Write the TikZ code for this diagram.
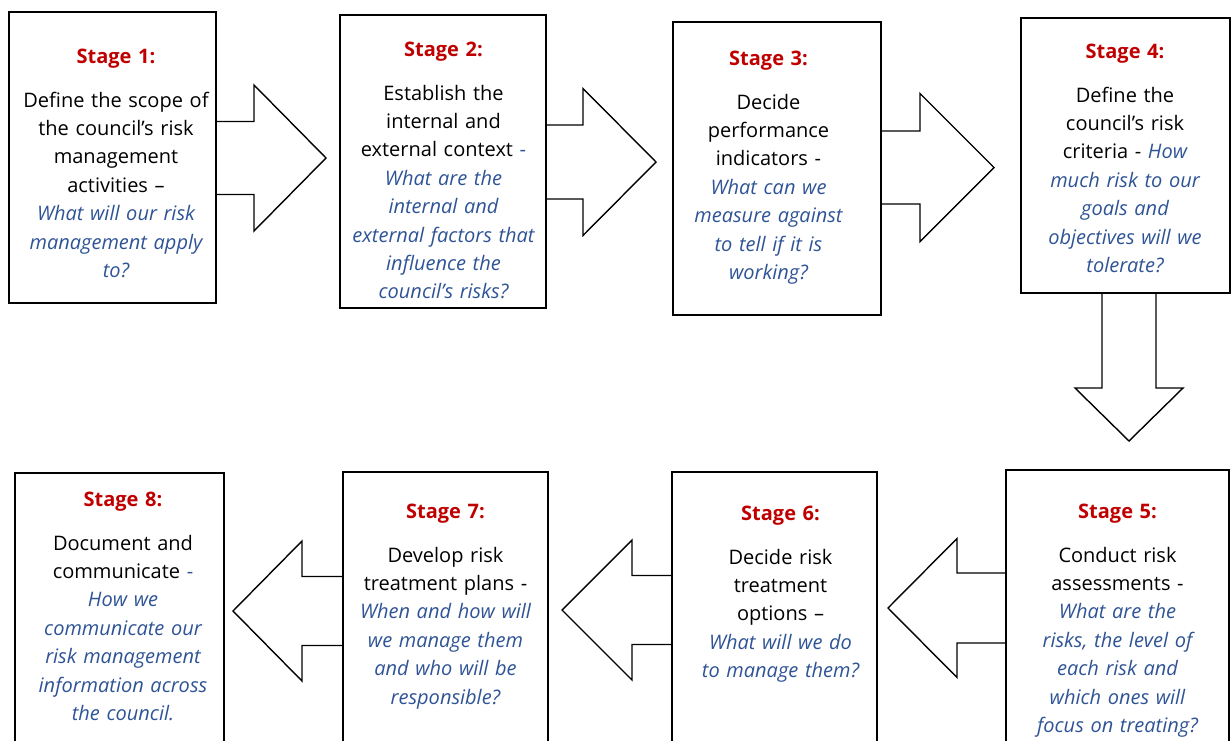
\documentclass[tikz,border=0pt]{standalone}
\usepackage{fontspec}
\setmainfont{Open Sans}
\definecolor{stagered}{RGB}{192,0,0}
\definecolor{qblue}{RGB}{47,84,150}
\tikzset{
  stagebox/.style={draw=black, line width=2pt, fill=white, rectangle, inner sep=0pt},
  blockarr/.style={draw=black, line width=1.4pt, fill=white, line join=miter},
  boxtext/.style={align=center, inner sep=0pt, text width=215pt, anchor=north,
    font=\fontsize{20}{28.4}\selectfont},
}
\newcommand{\hd}[1]{\textcolor{stagered}{\textbf{#1}}}
\newcommand{\qq}[1]{\textcolor{qblue}{\itshape #1}}
% horizontal block arrow: x0, base x, tip x, y centre, shaft half, head half
\newcommand{\harrow}[6]{%
  \draw[blockarr] (#1,{#4-#5}) -- (#2,{#4-#5}) -- (#2,{#4-#6}) -- (#3,#4)
    -- (#2,{#4+#6}) -- (#2,{#4+#5}) -- (#1,{#4+#5}) -- cycle;}
% vertical block arrow: y0, base y, tip y, x centre, shaft half, head half
\newcommand{\varrow}[6]{%
  \draw[blockarr] ({#4-#5},#1) -- ({#4-#5},#2) -- ({#4-#6},#2) -- (#4,#3)
    -- ({#4+#6},#2) -- ({#4+#5},#2) -- ({#4+#5},#1) -- cycle;}
\begin{document}
\begin{tikzpicture}[x=1pt, y=-1pt]
\useasboundingbox (0,0) rectangle (1231,740);
\clip (0,0) rectangle (1231,740);
\fill[white] (0,0) rectangle (1231,740);
% block arrows (drawn first, boxes cover their tails)
\harrow{200}{254}{326}{158}{36.5}{73}
\harrow{530}{583}{656}{162}{37}{73.5}
\harrow{865}{920}{994}{167.5}{36.5}{74}
\varrow{280}{388}{441}{1129}{27}{54}
\harrow{1020}{957}{888}{608}{35}{69.5}
\harrow{690}{632}{562}{610}{34.5}{70}
\harrow{360}{302}{233}{611}{34.5}{70}
% boxes
\node[stagebox, minimum width=207pt, minimum height=291pt] (b1) at (112.5,157.5) {};
\node[stagebox, minimum width=206pt, minimum height=293pt] (b2) at (443,161.5) {};
\node[stagebox, minimum width=208pt, minimum height=293pt] (b3) at (777,168.5) {};
\node[stagebox, minimum width=209pt, minimum height=275pt] (b4) at (1125.5,155.5) {};
\node[stagebox, minimum width=223pt, minimum height=280pt] (b5) at (1117.5,610) {};
\node[stagebox, minimum width=205pt, minimum height=278pt] (b6) at (774.5,611) {};
\node[stagebox, minimum width=205pt, minimum height=278pt] (b7) at (445.5,611) {};
\node[stagebox, minimum width=209pt, minimum height=277pt] (b8) at (119.5,611.5) {};
% texts
\node[boxtext] (t1) at (116,48.5) {\hd{Stage 1:}\\[15.6pt]
  Define the scope of\\ the council’s risk\\ management\\ activities –\\
  \qq{What will our risk\\ management apply\\ to?}};
\node[boxtext] (t2) at (443.5,41.5) {\hd{Stage 2:}\\[15.6pt]
  Establish the\\ internal and\\ external context \textcolor{qblue}{-}\\
  \qq{What are the\\ internal and\\ external factors that\\ influence the\\ council’s risks?}};
\node[boxtext] (t3) at (768.5,50.5) {\hd{Stage 3:}\\[15.6pt]
  Decide\\ performance\\ indicators -\\
  \qq{What can we\\ measure against\\ to tell if it is\\ working?}};
\node[boxtext] (t4) at (1125,43.5) {\hd{Stage 4:}\\[15.6pt]
  Define the\\ council’s risk\\ criteria - \qq{How\\ much risk to our\\ goals and\\ objectives will we\\ tolerate?}};
\node[boxtext] (t5) at (1117.5,503.5) {\hd{Stage 5:}\\[15.6pt]
  Conduct risk\\ assessments -\\
  \qq{What are the\\ risks, the level of\\ each risk and\\ which ones will\\ focus on treating?}};
\node[boxtext] (t6) at (780.5,505.5) {\hd{Stage 6:}\\[15.6pt]
  Decide risk\\ treatment\\ options –\\
  \qq{What will we do\\ to manage them?}};
\node[boxtext] (t7) at (445.5,503.5) {\hd{Stage 7:}\\[15.6pt]
  Develop risk\\ treatment plans -\\
  \qq{When and how will\\ we manage them\\ and who will be\\ responsible?}};
\node[boxtext] (t8) at (123,491.5) {\hd{Stage 8:}\\[15.6pt]
  Document and\\ communicate \textcolor{qblue}{-}\\
  \qq{How we\\ communicate our\\ risk management\\ information across\\ the council.}};
\end{tikzpicture}
\end{document}
